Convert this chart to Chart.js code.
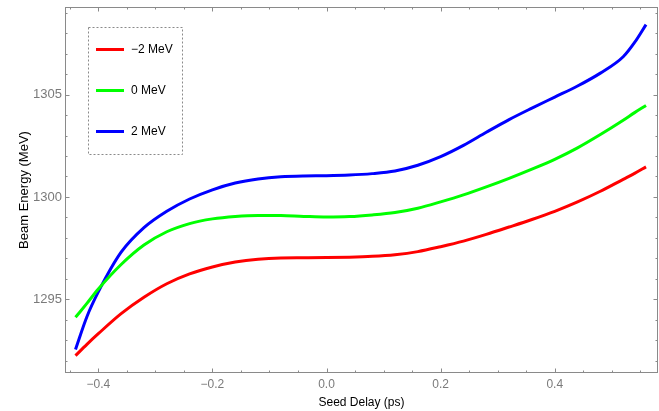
<!DOCTYPE html>
<html>
<head>
<meta charset="utf-8">
<script src="https://cdn.jsdelivr.net/npm/chart.js@4"></script>
<style>
  html, body { margin: 0; padding: 0; background: #ffffff; }
  #wrap { width: 659px; height: 411px; }
</style>
</head>
<body>
<div id="wrap"><canvas id="c" width="659" height="411"></canvas></div>
<script>
// Seed delay (ps) sample positions
const delay = [-0.44, -0.42, -0.40, -0.36, -0.32, -0.28, -0.24, -0.20, -0.16, -0.12, -0.08, -0.04,
               0.00, 0.04, 0.08, 0.12, 0.16, 0.20, 0.24, 0.28, 0.32, 0.36, 0.40, 0.44, 0.48, 0.52, 0.54, 0.56];

// Beam energy (MeV) for each energy offset
const energyMinus2 = [1292.25, 1292.8, 1293.32, 1294.3, 1295.1, 1295.76, 1296.24, 1296.58, 1296.82, 1296.96, 1297.02, 1297.03,
                      1297.04, 1297.06, 1297.1, 1297.18, 1297.33, 1297.57, 1297.84, 1298.17, 1298.53, 1298.9, 1299.3, 1299.76, 1300.28, 1300.86, 1301.15, 1301.47];
const energyZero   = [1294.12, 1294.8, 1295.5, 1296.7, 1297.65, 1298.3, 1298.7, 1298.93, 1299.05, 1299.1, 1299.09, 1299.05,
                      1299.02, 1299.04, 1299.12, 1299.24, 1299.45, 1299.76, 1300.1, 1300.49, 1300.91, 1301.36, 1301.84, 1302.4, 1303.05, 1303.75, 1304.12, 1304.47];
const energyPlus2  = [1292.55, 1294.15, 1295.36, 1297.3, 1298.5, 1299.3, 1299.9, 1300.35, 1300.68, 1300.88, 1300.99, 1301.03,
                      1301.04, 1301.07, 1301.14, 1301.27, 1301.55, 1301.97, 1302.52, 1303.16, 1303.78, 1304.34, 1304.88, 1305.42, 1306.05, 1306.85, 1307.55, 1308.42];

const seriesLabels = ['\u22122 MeV', '0 MeV', '2 MeV'];
const seriesColors = ['#ff0000', '#00ff00', '#0000ff'];

// Tick positions
const xMajorTicks = [-0.4, -0.2, 0.0, 0.2, 0.4];
const xMinorTicks = [-0.45, -0.35, -0.3, -0.25, -0.15, -0.1, -0.05, 0.05, 0.1, 0.15, 0.25, 0.3, 0.35, 0.45, 0.5, 0.55];
const yMajorTicks = [1295, 1300, 1305];
const yMinorTicks = [1292, 1293, 1294, 1296, 1297, 1298, 1299, 1301, 1302, 1303, 1304, 1306, 1307, 1308, 1309];

const FONT = "'Liberation Sans', Arial, Helvetica, sans-serif";

function toPoints(ys) {
  return delay.map((x, i) => ({ x: x, y: ys[i] }));
}

function noScalePadding(s) {
  s.paddingLeft = 0; s.paddingRight = 0; s.paddingTop = 0; s.paddingBottom = 0;
}

// Frame box with inward-pointing ticks on all four sides
const frameTicks = {
  id: 'frameTicks',
  afterDatasetsDraw(chart) {
    const { ctx, chartArea: a, scales: { x, y } } = chart;
    ctx.save();
    ctx.strokeStyle = '#8a8a8a';
    ctx.lineWidth = 1;
    ctx.strokeRect(a.left + 0.5, a.top + 0.5, a.right - a.left - 1, a.bottom - a.top - 1);
    const tick = (vals, len, axis) => {
      vals.forEach(v => {
        ctx.beginPath();
        if (axis === 'x') {
          const px = Math.round(x.getPixelForValue(v)) + 0.5;
          ctx.moveTo(px, a.bottom); ctx.lineTo(px, a.bottom - len);
          ctx.moveTo(px, a.top); ctx.lineTo(px, a.top + len);
        } else {
          const py = Math.round(y.getPixelForValue(v)) + 0.5;
          ctx.moveTo(a.left, py); ctx.lineTo(a.left + len, py);
          ctx.moveTo(a.right, py); ctx.lineTo(a.right - len, py);
        }
        ctx.stroke();
      });
    };
    tick(xMajorTicks, 4.5, 'x');
    tick(xMinorTicks, 2.5, 'x');
    tick(yMajorTicks, 4.5, 'y');
    tick(yMinorTicks, 2.5, 'y');
    ctx.restore();
  }
};

// Legend drawn in a dashed box inside the plot
const insetLegend = {
  id: 'insetLegend',
  afterDraw(chart) {
    const { ctx } = chart;
    ctx.save();
    ctx.strokeStyle = '#8a8a8a';
    ctx.lineWidth = 1;
    ctx.setLineDash([2, 2]);
    ctx.strokeRect(88.5, 27.5, 94, 127);
    ctx.setLineDash([]);
    const rows = [49.5, 90.5, 131.5];
    chart.data.datasets.forEach((ds, i) => {
      ctx.strokeStyle = ds.borderColor;
      ctx.lineWidth = 3;
      ctx.beginPath();
      ctx.moveTo(96, rows[i]);
      ctx.lineTo(124, rows[i]);
      ctx.stroke();
      ctx.fillStyle = '#000000';
      ctx.font = '12px ' + FONT;
      ctx.textBaseline = 'middle';
      ctx.textAlign = 'left';
      ctx.fillText(ds.label, 131, rows[i]);
    });
    ctx.restore();
  }
};

const datasets = [energyMinus2, energyZero, energyPlus2].map((ys, i) => ({
  label: seriesLabels[i],
  data: toPoints(ys),
  borderColor: seriesColors[i],
  backgroundColor: seriesColors[i],
  borderWidth: 3,
  pointRadius: 0,
  cubicInterpolationMode: 'monotone',
  borderCapStyle: 'butt',
  borderJoinStyle: 'round',
  fill: false,
  showLine: true
}));

new Chart(document.getElementById('c'), {
  type: 'scatter',
  data: { datasets },
  plugins: [frameTicks, insetLegend],
  options: {
    responsive: false,
    animation: false,
    devicePixelRatio: 1,
    layout: { padding: { top: 7, right: 1, left: 0, bottom: 0 } },
    plugins: { legend: { display: false }, tooltip: { enabled: false } },
    scales: {
      x: {
        type: 'linear',
        min: -0.4584,
        max: 0.581,
        grid: { display: false, drawTicks: false },
        border: { display: false },
        afterFit(s) { s.height = 38; noScalePadding(s); },
        afterBuildTicks(s) { s.ticks = xMajorTicks.map(v => ({ value: v })); },
        ticks: {
          padding: 4,
          color: '#7a7a7a',
          font: { family: FONT, size: 12 },
          maxRotation: 0,
          autoSkip: false,
          callback: v => (v < 0 ? '\u2212' : '') + Math.abs(v).toFixed(1)
        },
        title: {
          display: true,
          text: 'Seed Delay (ps)',
          color: '#000000',
          font: { family: FONT, size: 12 },
          padding: { top: 0, bottom: 1 }
        }
      },
      y: {
        type: 'linear',
        min: 1291.4,
        max: 1309.28,
        grid: { display: false, drawTicks: false },
        border: { display: false },
        afterFit(s) { s.width = 65; noScalePadding(s); },
        afterBuildTicks(s) { s.ticks = yMajorTicks.map(v => ({ value: v })); },
        ticks: {
          padding: 3,
          color: '#7a7a7a',
          font: { family: FONT, size: 13 },
          autoSkip: false,
          callback: v => String(v)
        },
        title: {
          display: true,
          text: 'Beam Energy (MeV)',
          color: '#000000',
          font: { family: FONT, size: 13 },
          padding: { top: 17, bottom: 0 }
        }
      }
    }
  }
});
</script>
</body>
</html>
